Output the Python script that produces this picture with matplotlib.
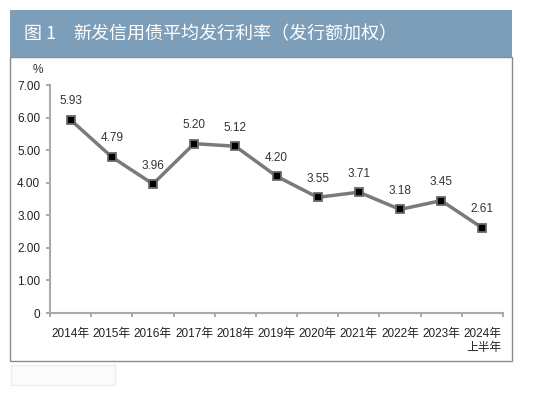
import matplotlib.pyplot as plt
from matplotlib.patches import Rectangle
import numpy as np

plt.rcParams['font.family'] = ['Liberation Sans', 'Noto Sans CJK SC', 'DejaVu Sans']

years = ['2014年', '2015年', '2016年', '2017年', '2018年', '2019年',
         '2020年', '2021年', '2022年', '2023年', '2024年\n上半年']
rates = [5.93, 4.79, 3.96, 5.20, 5.12, 4.20, 3.55, 3.71, 3.18, 3.45, 2.61]
yticks = [0, 1, 2, 3, 4, 5, 6, 7]
ytick_labels = ['0', '1.00', '2.00', '3.00', '4.00', '5.00', '6.00', '7.00']

fig = plt.figure(figsize=(5.5, 3.95), dpi=100)

# title band and frame (behind the axes)
frame = Rectangle((10 / 550, 1 - 361 / 395), 502 / 550, 304 / 395,
                  transform=fig.transFigure, facecolor='white',
                  edgecolor='#8a8a8a', linewidth=1.0, zorder=-2)
band = Rectangle((10 / 550, 1 - 57 / 395), 502 / 550, 47 / 395,
                 transform=fig.transFigure, facecolor='#7d9eb9',
                 edgecolor='none', zorder=-1)
faint = Rectangle((11 / 550, 1 - 385 / 395), 104 / 550, 20 / 395,
                  transform=fig.transFigure, facecolor='#fbfbfb',
                  edgecolor='#ececec', linewidth=1.0, zorder=-2)
fig.patches.extend([frame, band, faint])
fig.text(24 / 550, 1 - 34 / 395, '图 1', color='white', fontsize=13,
         va='center', ha='left', family=['Noto Sans CJK SC', 'DejaVu Sans'])
fig.text(73 / 550, 1 - 34 / 395, '新发信用债平均发行利率（发行额加权）',
         color='white', fontsize=13, va='center', ha='left',
         family=['Noto Sans CJK SC', 'DejaVu Sans'])

ax = fig.add_axes([50 / 550, 1 - 313 / 395, 453 / 550, 228 / 395])
ax.patch.set_alpha(0)
x = np.arange(len(years))
ax.plot(x, rates, color='#7a7a7a', linewidth=2.5, marker='s', markersize=6,
        markerfacecolor='black', markeredgecolor='#6a6a6a', markeredgewidth=1.3,
        clip_on=False)
for xi, v in zip(x, rates):
    ax.annotate(f'{v:.2f}', (xi, v), xytext=(0, 9), textcoords='offset points',
                ha='center', va='bottom', fontsize=8.5, color='#333333')

ax.set_xlim(-0.5, len(years) - 0.5)
ax.set_ylim(0, 7)
ax.set_yticks(yticks)
ax.set_yticklabels(ytick_labels)
ax.set_xticks(x)
ax.set_xticklabels(years, fontsize=8.5, color='#222222', ha='center',
                   multialignment='right')
ax.set_xticks(np.arange(-0.5, len(years)), minor=True)
ax.tick_params(axis='x', which='major', length=0, pad=11)
ax.tick_params(axis='x', which='minor', length=3, color='#999999', width=1.2,
               direction='out')
ax.tick_params(axis='y', length=3, color='#999999', width=1.2, labelsize=8.5,
               labelcolor='#222222', pad=4)
for s in ['top', 'right']:
    ax.spines[s].set_visible(False)
for s in ['left', 'bottom']:
    ax.spines[s].set_color('#aaaaaa')
    ax.spines[s].set_linewidth(1.5)
ax.text(-0.027, 1.066, '%', transform=ax.transAxes, fontsize=8.5, color='#333333',
        ha='center', va='center')

fig.savefig('out.png', dpi=100)
